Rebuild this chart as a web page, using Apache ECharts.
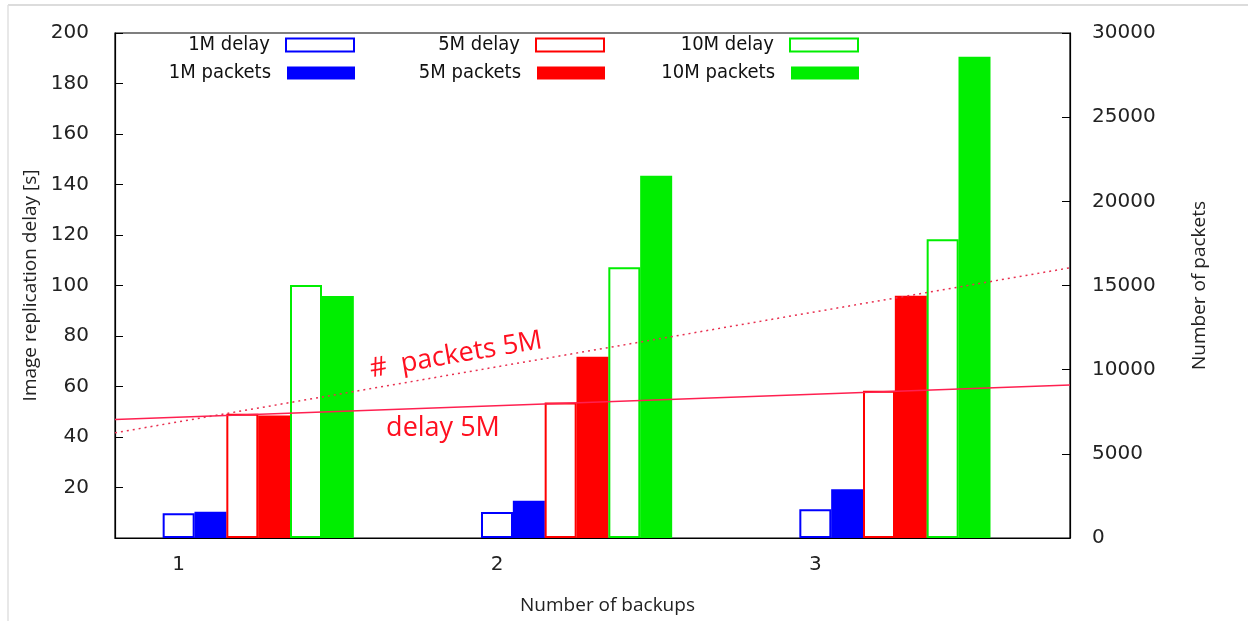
<!DOCTYPE html>
<html>
<head>
<meta charset="utf-8">
<script src="https://cdn.jsdelivr.net/npm/echarts@6/dist/echarts.min.js"></script>
<style>
html,body{margin:0;padding:0;background:#fff;}
#chart{width:1248px;height:621px;}
</style>
</head>
<body>
<div id="chart"></div>
<script>
// ---- data ----
const backups = [1, 2, 3];
const delay1M = [9.8, 10.3, 11.4];
const packets1M = [1560, 2220, 2890];
const delay5M = [49.2, 53.7, 58.3];
const packets5M = [7270, 10770, 14390];
const delay10M = [100.2, 107.2, 118.3];
const packets10M = [14380, 21520, 28590];
// fitted trend lines (endpoints at the x range edges)
const trendX = [0.8, 3.8];
const delayTrend5M = [46.9, 60.6];
const packetsTrend5M = [6250, 16050];
const leftTicks = [0, 20, 40, 60, 80, 100, 120, 140, 160, 180, 200];
const rightTicks = [0, 5000, 10000, 15000, 20000, 25000, 30000];

const BLUE = '#0000ff', RED = '#ff0000', GREEN = '#00ee00';
const tickFont = 'DejaVu Sans';
const legendFont = 'DejaVu Sans Condensed, DejaVu Sans';
const titleFont = 'Open Sans';

function pts(vals, off) { return backups.map((b, i) => [b + off, vals[i]]); }

const barDefs = [
  {name: '1M delay', vals: delay1M, off: 0.0, y: 0, color: BLUE, hollow: true},
  {name: '1M packets', vals: packets1M, off: 0.1, y: 1, color: BLUE, hollow: false},
  {name: '5M delay', vals: delay5M, off: 0.2, y: 0, color: RED, hollow: true},
  {name: '5M packets', vals: packets5M, off: 0.3, y: 1, color: RED, hollow: false},
  {name: '10M delay', vals: delay10M, off: 0.4, y: 0, color: GREEN, hollow: true},
  {name: '10M packets', vals: packets10M, off: 0.5, y: 1, color: GREEN, hollow: false}
];

const series = barDefs.map(d => ({
  name: d.name,
  type: 'bar',
  xAxisIndex: 0,
  yAxisIndex: d.y,
  barWidth: 32,
  barGap: '-100%',
  data: pts(d.vals, d.off),
  itemStyle: d.hollow
    ? {color: '#ffffff', borderColor: d.color, borderWidth: 2}
    : {color: d.color, borderWidth: 0},
  emphasis: {disabled: true},
  animation: false
}));

series.push({
  name: 'delay trend', type: 'line', yAxisIndex: 0, symbol: 'none',
  data: trendX.map((x, i) => [x, delayTrend5M[i]]),
  lineStyle: {color: '#ff2050', width: 1.5}, z: 5, animation: false
});
series.push({
  name: 'packets trend', type: 'line', yAxisIndex: 1, symbol: 'none',
  data: trendX.map((x, i) => [x, packetsTrend5M[i]]),
  lineStyle: {color: '#e83050', width: 1.5, type: [2, 4]}, z: 5, animation: false
});

// gnuplot style key: text right-aligned, sample box on the right
const legendCols = [
  {right: 893, names: ['1M delay', '1M packets']},
  {right: 643, names: ['5M delay', '5M packets']},
  {right: 389, names: ['10M delay', '10M packets']}
];
const legendRows = [35, 63];
const legends = [];
legendCols.forEach(c => c.names.forEach((n, r) => {
  legends.push({
    data: [{name: n, icon: 'rect'}],
    right: c.right, top: legendRows[r],
    align: 'right', orient: 'horizontal',
    itemWidth: 68, itemHeight: 13, padding: 0,
    selectedMode: false,
    textStyle: {fontFamily: legendFont, fontSize: 20, color: '#111', padding: [0, 11, 0, 0]}
  });
}));

const option = {
  backgroundColor: '#ffffff',
  animation: false,
  grid: {left: 115, right: 178, top: 33, bottom: 83, show: true, borderColor: '#000', borderWidth: 1.2, backgroundColor: 'transparent'},
  legend: legends,
  xAxis: {
    type: 'value', min: 0.8, max: 3.8,
    name: 'Number of backups', nameLocation: 'middle', nameGap: 58,
    nameTextStyle: {fontFamily: titleFont, fontSize: 19, color: '#222', padding: [0, 0, 0, 30]},
    axisLine: {show: true, lineStyle: {color: '#000', width: 1.2}},
    axisTick: {show: true, inside: true, length: 6, customValues: backups, lineStyle: {color: '#000'}},
    axisLabel: {customValues: backups, fontFamily: tickFont, fontSize: 20, color: '#222', margin: 17},
    splitLine: {show: false}
  },
  yAxis: [
    {
      type: 'value', min: leftTicks[0], max: leftTicks[leftTicks.length - 1], interval: 20,
      position: 'left',
      name: 'Image replication delay [s]', nameLocation: 'middle', nameGap: 72, nameRotate: 90,
      nameTextStyle: {fontFamily: titleFont, fontSize: 19, color: '#222'},
      axisLine: {show: true, lineStyle: {color: '#000', width: 1.2}},
      axisTick: {show: true, inside: true, length: 8, lineStyle: {color: '#000'}},
      axisLabel: {fontFamily: tickFont, fontSize: 20, color: '#222', margin: 26,
        formatter: v => v === 0 ? '' : String(v)},
      splitLine: {show: false}
    },
    {
      type: 'value', min: rightTicks[0], max: rightTicks[rightTicks.length - 1], interval: 5000,
      position: 'right',
      name: 'Number of packets', nameLocation: 'middle', nameGap: 120, nameRotate: 90,
      nameTextStyle: {fontFamily: titleFont, fontSize: 19, color: '#222'},
      axisLine: {show: true, lineStyle: {color: '#000', width: 1.2}},
      axisTick: {show: true, inside: true, length: 8, lineStyle: {color: '#000'}},
      axisLabel: {fontFamily: tickFont, fontSize: 20, color: '#222', margin: 22,
        formatter: v => String(v)},
      splitLine: {show: false}
    }
  ],
  series: series,
  graphic: [
    {type: 'line', shape: {x1: 8, y1: 5, x2: 1248, y2: 5}, style: {stroke: '#d0d0d0', lineWidth: 1.5}, silent: true},
    {type: 'line', shape: {x1: 8, y1: 5, x2: 8, y2: 621}, style: {stroke: '#e0e0e0', lineWidth: 1.5}, silent: true},
    {type: 'text', x: 456, y: 355, rotation: 0.168, z: 100,
      style: {text: '#  packets 5M', fill: '#ff1020', font: '27px "Open Sans"', textAlign: 'center', textVerticalAlign: 'middle'}},
    {type: 'text', x: 443, y: 428, z: 100,
      style: {text: 'delay 5M', fill: '#ff1020', font: '27px "Open Sans"', textAlign: 'center', textVerticalAlign: 'middle'}}
  ]
};

const chart = echarts.init(document.getElementById('chart'), null, {renderer: 'canvas'});
chart.setOption(option);
</script>
</body>
</html>
